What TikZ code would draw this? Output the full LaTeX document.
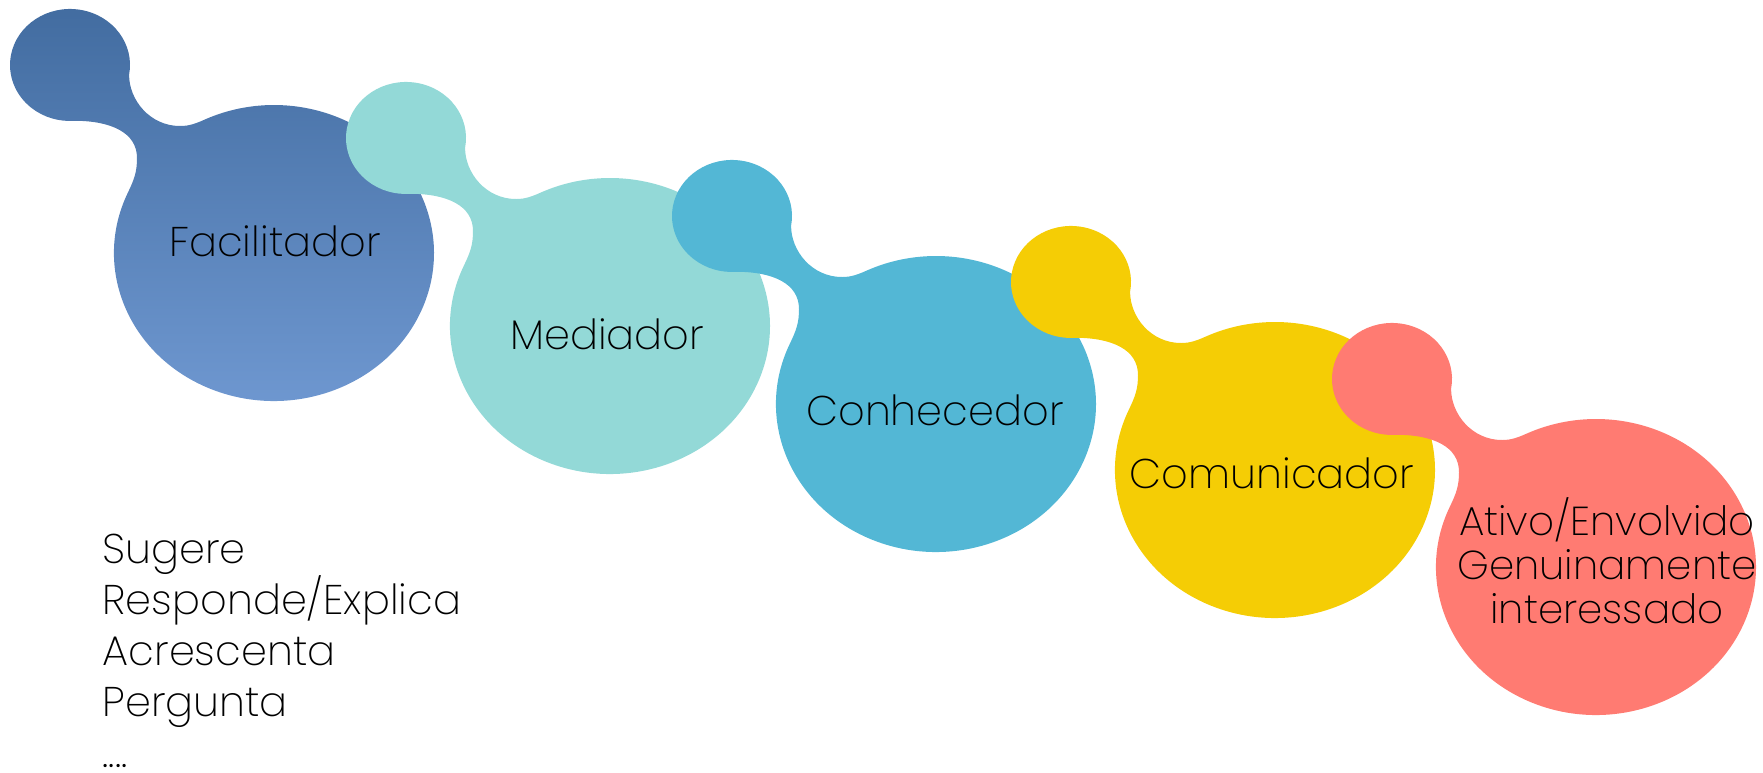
\documentclass[tikz,border=0pt]{standalone}
\usepackage{fontspec}
\IfFontExistsTF{Poppins ExtraLight}{\setmainfont{Poppins ExtraLight}}{%
  \IfFontExistsTF{Poppins Light}{\setmainfont{Poppins Light}}{\setmainfont{Poppins}}}
\usetikzlibrary{positioning}

\definecolor{facilTop}{HTML}{426CA0}
\definecolor{facilBot}{HTML}{7099D2}
\definecolor{mediaCol}{HTML}{93D9D7}
\definecolor{conheCol}{HTML}{53B7D5}
\definecolor{comunCol}{HTML}{F5CD05}
\definecolor{ativoCol}{HTML}{FF7B72}

\tikzset{
  blob/.pic={
    \path[pic actions] (59.1,-9.7)
      arc[start angle=-10, end angle=275, x radius=60, y radius=56]
      .. controls (40,-56) and (67,-67) .. (67,-93)
      .. controls (67,-107) and (64.3,-114.3) .. (57.8,-127.8)
      arc[start angle=156, end angle=475, x radius=160, y radius=148]
      .. controls (126.3,-58.3) and (120,-61) .. (110,-61)
      .. controls (80,-61) and (59,-35) .. cycle;
  },
  lbl/.style={inner sep=0pt, font=\fontsize{11.8}{12.5}\selectfont, text=black},
}

\begin{document}
\begin{tikzpicture}[x=0.01cm, y=0.01cm]
        \useasboundingbox (0,0) rectangle (1763,-772);

        \pic[top color=facilTop, bottom color=facilBot] at (70,-65) {blob};
        \pic[fill=mediaCol] at (406,-138) {blob};
        \pic[fill=conheCol] at (732,-216) {blob};
        \pic[fill=comunCol] at (1071,-282) {blob};
        \pic[fill=ativoCol] at (1392,-379) {blob};

        \node[lbl, anchor=base] (Facil) at (275,-256) {Facilitador};
        \node[lbl, anchor=base] (Media) at (607,-349) {Mediador};
        \node[lbl, anchor=base] (Conhe) at (935,-425) {Conhecedor};
        \node[lbl, anchor=base] (Comun) at (1272,-488) {Comunicador};
        % base = last line
        \node[lbl, anchor=base, align=center, font=\fontsize{11.5}{12.5}\selectfont] (Ativo) at (1607,-623)
            {Ativo/Envolvido\\Genuinamente\\interessado};

        \node[lbl, anchor=base west, align=left, font=\fontsize{11.8}{14.5}\selectfont] (Acoes) at (102,-767)
            {Sugere\\Responde/Explica\\Acrescenta\\Pergunta\\....};
\end{tikzpicture}
\end{document}
